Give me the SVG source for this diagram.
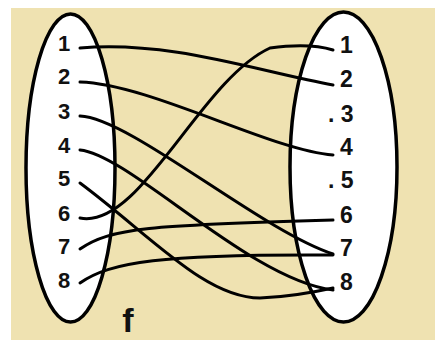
<svg xmlns="http://www.w3.org/2000/svg" width="435" height="341" viewBox="0 0 435 341">
<style>
.set{fill:#ffffff;stroke:#000;stroke-width:3.5}
.lbl{font-family:"Liberation Sans",Arial,sans-serif;font-weight:bold;fill:#111}
.l{font-size:22px;text-anchor:middle}
.r{font-size:23px}
.c{fill:none;stroke:#000;stroke-width:3;stroke-linecap:round}
</style>
<rect x="0" y="0" width="435" height="341" fill="#ffffff"/>
<rect x="11" y="8" width="424" height="332" fill="#EFE2B1"/>
<g id="setA">
<ellipse class="set" cx="70.5" cy="168" rx="44.5" ry="154"/>
<text class="lbl l" x="64" y="51">1</text>
<text class="lbl l" x="64" y="84">2</text>
<text class="lbl l" x="64" y="119">3</text>
<text class="lbl l" x="64" y="153">4</text>
<text class="lbl l" x="64" y="186">5</text>
<text class="lbl l" x="64" y="221">6</text>
<text class="lbl l" x="64" y="254">7</text>
<text class="lbl l" x="64" y="288">8</text>
</g>
<g id="setB">
<ellipse class="set" cx="343.5" cy="167" rx="53.5" ry="155"/>
<text class="lbl r" x="340" y="53">1</text>
<text class="lbl r" x="340" y="87">2</text>
<text class="lbl r" x="328" y="122">. 3</text>
<text class="lbl r" x="340" y="155">4</text>
<text class="lbl r" x="328" y="188">. 5</text>
<text class="lbl r" x="340" y="223">6</text>
<text class="lbl r" x="340" y="256">7</text>
<text class="lbl r" x="340" y="290">8</text>
</g>
<g id="connectors">
<path class="c" d="M80,48 C170,40 260,72 333,85"/>
<path class="c" d="M80,82 C150,84 270,150 333,155"/>
<path class="c" d="M80,116 C130,118 260,230 333,254"/>
<path class="c" d="M80,150 C130,155 250,280 333,290"/>
<path class="c" d="M80,183 C150,235 205,298 260,298 C290,297 315,292 333,288"/>
<path class="c" d="M80,218 C140,230 200,80 270,48 C300,44 320,46 333,50"/>
<path class="c" d="M80,249 C110,228 150,225 333,220"/>
<path class="c" d="M80,283 C110,262 160,254 333,255"/>
</g>
<text id="label-f" class="lbl" x="128" y="332" font-size="34" text-anchor="middle">f</text>
</svg>
